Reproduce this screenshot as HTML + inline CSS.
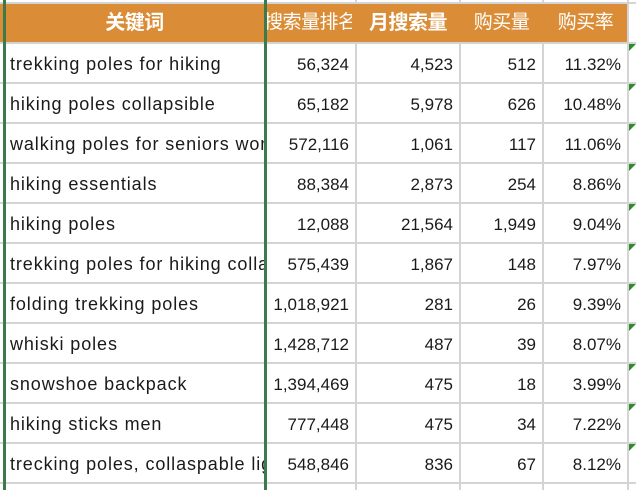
<!DOCTYPE html>
<html><head><meta charset="utf-8"><style>
body{margin:0;width:636px;height:490px;overflow:hidden;background:#fff;font-family:"Liberation Sans","Noto Sans CJK SC",sans-serif;position:relative}
.c{position:absolute;overflow:hidden;white-space:nowrap;box-sizing:border-box;font-size:17px;color:#1a1a1a;line-height:41px}
.kw{font-size:18px;letter-spacing:0.9px}
.h{background:#db8c36;color:#fff;line-height:38px;font-size:19px;letter-spacing:-0.5px}
.vl{position:absolute;top:0;height:490px;width:2px;background:#d4d4d4}
.hl{position:absolute;left:0;width:636px;height:2px;background:#d4d4d4}
.tri{position:absolute;width:0;height:0;border-top:7px solid #2e8b2e;border-right:7px solid transparent}
</style></head><body>
<div id="t"></div>
<script>
const keywords=["trekking poles for hiking","hiking poles collapsible","walking poles for seniors women","hiking essentials","hiking poles","trekking poles for hiking collapsible","folding trekking poles","whiski poles","snowshoe backpack","hiking sticks men","trecking poles, collaspable lightweight"];
const ranks=["56,324","65,182","572,116","88,384","12,088","575,439","1,018,921","1,428,712","1,394,469","777,448","548,846"];
const monthly=["4,523","5,978","1,061","2,873","21,564","1,867","281","487","475","475","836"];
const buys=["512","626","117","254","1,949","148","26","39","18","34","67"];
const rates=["11.32%","10.48%","11.06%","8.86%","9.04%","7.97%","9.39%","8.07%","3.99%","7.22%","8.12%"];
const cols=[[5,264],[267,355],[357,459],[461,542],[544,627]];
const t=document.getElementById('t');
function cell(x0,x1,y,h,txt,cls,align,name){
 const d=document.createElement('div');
 d.className='c '+cls;
 
 
 d.style.left=x0+'px';d.style.width=(x1-x0)+'px';d.style.top=y+'px';d.style.height=h+'px';
 d.style.textAlign=align;d.style.padding=align==='left'?'0 0 0 5px':(align==='right'?'0 6px 0 0':'0');
 d.textContent=txt;t.appendChild(d);return d;}
for(let i=0;i<12;i++){const l=document.createElement('div');l.className='hl';l.style.top=(42+40*i)+'px';


t.appendChild(l);}
[355,459,542,627].forEach(x=>{const l=document.createElement('div');l.className='vl';l.style.left=x+'px';


t.appendChild(l);});
const topLine=document.createElement('div');topLine.className='hl';topLine.style.top='2px';


t.appendChild(topLine);
const hb=document.createElement('div');hb.style.cssText='position:absolute;left:0;top:4px;width:627px;height:38px;background:#db8c36';


t.appendChild(hb);
const heads=["关键词","搜索量排名","月搜索量","购买量","购买率"];
heads.forEach((h,i)=>{const d=cell(cols[i][0],cols[i][1],4,38,h,'h',i==1?'left':'center','header-'+i);
if(i==0||i==2){d.style.fontWeight='bold';d.style.fontSize='20px';}if(i==1){d.style.padding='0';d.style.left='264px';}});
keywords.forEach((k,r)=>{const y=44+40*r;
 cell(cols[0][0],cols[0][1],y,40,k,'kw','left','keyword-cell');
 cell(cols[1][0],cols[1][1],y,40,ranks[r],'','right','rank-cell');
 cell(cols[2][0],cols[2][1],y,40,monthly[r],'','right','monthly-search-cell');
 cell(cols[3][0],cols[3][1],y,40,buys[r],'','right','purchase-cell');
 cell(cols[4][0],cols[4][1],y,40,rates[r],'','right','purchase-rate-cell');
 const tr=document.createElement('div');tr.className='tri';tr.style.left='629px';tr.style.top=(y)+'px';
 
 
 t.appendChild(tr);
});
[[3,3],[264,3]].forEach(([x,w])=>{const g=document.createElement('div');g.style.cssText='position:absolute;top:0;height:490px;background:#3b7a4a;left:'+x+'px;width:'+w+'px';


t.appendChild(g);});
</script>
</body></html>
